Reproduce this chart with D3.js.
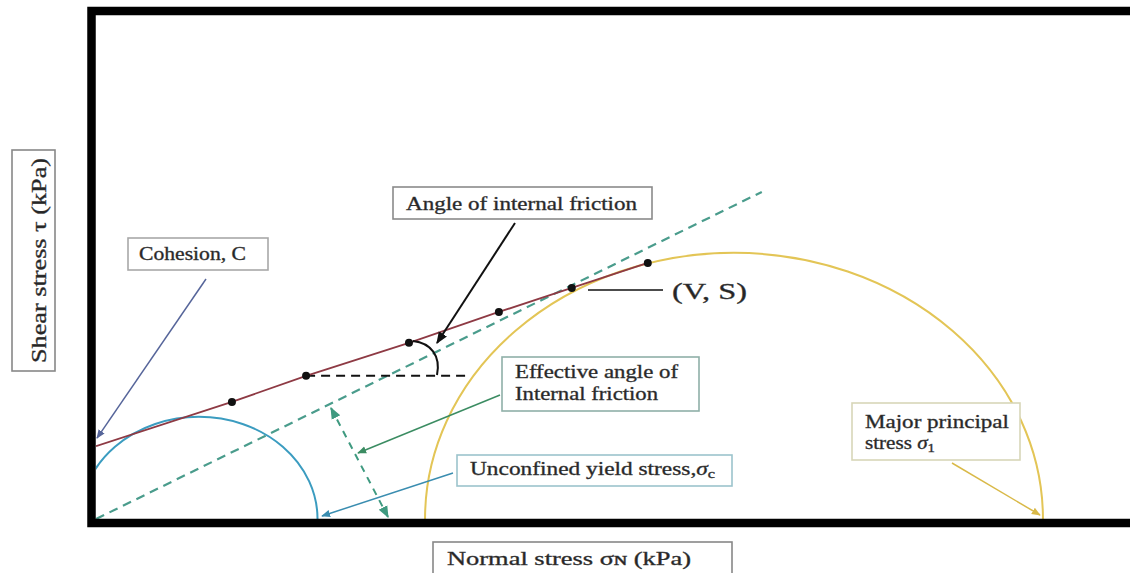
<html>
<script src='https://d3js.org/d3.v7.min.js'></script>
<style>
body {margin:0; background:white;}
text {font-family: 'Liberation Serif', 'Times New Roman', serif; fill:#262626; stroke:#3a3a3a; stroke-width:0.35;}
</style>
<body>
<svg width=1130 height=573></svg>
<script>
// yield locus (sigma, tau in kPa)
var cohesion = 27.4;
var yieldSigma = [44.0, 68.0, 101.3, 130.4, 154.0, 178.6];
var yieldTau = [44.0, 53.8, 66.2, 77.8, 86.8, 96.2];
// effective yield locus through the origin
var effSigma = [0, 215.5];
var effTau = [0, 122.9];
// Mohr circles: centre and radius
var circleNames = ['unconfined', 'major'];
var circleCentre = [33.3, 206.5];
var circleRadius = [38.4, 100];

var svg = d3.select('svg');
var x = d3.scaleLinear().domain([0, 335]).range([96, 1131]);
var y = d3.scaleLinear().domain([0, 195]).range([519, 0]);

svg.append('defs').append('clipPath').attr('id', 'plot')
  .append('rect').attr('x', 96).attr('y', 15).attr('width', 1040).attr('height', 504);

function marker(id, col) {
  svg.select('defs').append('marker').attr('id', id)
    .attr('viewBox', '0 0 10 10').attr('refX', 9).attr('refY', 5)
    .attr('markerWidth', 6).attr('markerHeight', 6).attr('orient', 'auto-start-reverse')
    .append('path').attr('d', 'M0,1 L10,5 L0,9 z').attr('fill', col);
}
marker('aBlack', '#111');
marker('aSlate', '#56659a');
marker('aGreen', '#3b8c62');
marker('aBlue', '#3a8db0');
marker('aGold', '#d9b948');
marker('aDash', '#3f9a80');

var g = svg.append('g').attr('clip-path', 'url(#plot)');

// Mohr circles (the picture is stretched sideways, so they come out as ellipses)
var circleCol = ['#3b9cc0', '#e3c556'];
g.selectAll('ellipse').data(circleNames).enter().append('ellipse')
  .attr('cx', (d, i) => x(circleCentre[i]))
  .attr('cy', y(0))
  .attr('rx', (d, i) => x(circleCentre[i] + circleRadius[i]) - x(circleCentre[i]))
  .attr('ry', (d, i) => y(0) - y(circleRadius[i]))
  .attr('fill', 'none').attr('stroke', (d, i) => circleCol[i]).attr('stroke-width', 2);

// effective yield locus
g.append('line')
  .attr('x1', x(effSigma[0])).attr('y1', y(effTau[0]))
  .attr('x2', x(effSigma[1])).attr('y2', y(effTau[1]))
  .attr('stroke', '#4a9c8c').attr('stroke-width', 2.2).attr('stroke-dasharray', '9,6');

// horizontal reference from the second point
g.append('line')
  .attr('x1', x(yieldSigma[1])).attr('y1', y(yieldTau[1]))
  .attr('x2', x(119.5)).attr('y2', y(yieldTau[1]))
  .attr('stroke', '#111').attr('stroke-width', 2).attr('stroke-dasharray', '9,6');

// yield locus
var locus = [[0, cohesion]].concat(yieldSigma.map((s, i) => [s, yieldTau[i]]));
g.append('path').datum(locus)
  .attr('d', d3.line().x(d => x(d[0])).y(d => y(d[1])))
  .attr('fill', 'none').attr('stroke', '#8e3a44').attr('stroke-width', 1.8);

g.selectAll('circle.pt').data(yieldSigma).enter().append('circle')
  .attr('class', 'pt')
  .attr('cx', d => x(d)).attr('cy', (d, i) => y(yieldTau[i])).attr('r', 4)
  .attr('fill', '#111');

// angle arc
svg.append('path').attr('d', 'M413,341 C431,343 441,356 437,375')
  .attr('fill', 'none').attr('stroke', '#111').attr('stroke-width', 2);

// arrows
var arrows = [
  {x1: 206, y1: 279, x2: x(0) + 1, y2: y(cohesion) - 8, col: '#56659a', m: 'aSlate', w: 1.5},
  {x1: 515, y1: 223, x2: 437, y2: 343, col: '#111', m: 'aBlack', w: 2},
  {x1: 500, y1: 395, x2: 358, y2: 453, col: '#3b8c62', m: 'aGreen', w: 1.5},
  {x1: 453, y1: 473, x2: 322, y2: 516, col: '#3a8db0', m: 'aBlue', w: 1.5},
  {x1: 952, y1: 463, x2: 1040, y2: 515, col: '#d9b948', m: 'aGold', w: 1.5}
];
svg.selectAll('line.arrow').data(arrows).enter().append('line')
  .attr('class', 'arrow')
  .attr('x1', d => d.x1).attr('y1', d => d.y1).attr('x2', d => d.x2).attr('y2', d => d.y2)
  .attr('stroke', d => d.col).attr('stroke-width', d => d.w)
  .attr('marker-end', d => 'url(#' + d.m + ')');

svg.append('line').attr('x1', 331).attr('y1', 408).attr('x2', 388).attr('y2', 517)
  .attr('stroke', '#3f9a80').attr('stroke-width', 2).attr('stroke-dasharray', '7,6')
  .attr('marker-start', 'url(#aDash)').attr('marker-end', 'url(#aDash)');

svg.append('line').attr('x1', 588).attr('y1', 290).attr('x2', 663).attr('y2', 290)
  .attr('stroke', '#111').attr('stroke-width', 1.5);

// label boxes
var boxes = [
  {x: 393, y: 187, w: 259, h: 32, col: '#8a8a8a'},
  {x: 128, y: 238, w: 140, h: 32, col: '#a8a8a8'},
  {x: 502, y: 357, w: 197, h: 54, col: '#8fb0a8'},
  {x: 457, y: 455, w: 275, h: 31, col: '#9cc4cc'},
  {x: 852, y: 403, w: 168, h: 57, col: '#d8d6b8'},
  {x: 12, y: 150, w: 43, h: 221, col: '#888'},
  {x: 433, y: 542, w: 299, h: 40, col: '#888'}
];
svg.selectAll('rect.box').data(boxes).enter().append('rect')
  .attr('class', 'box')
  .attr('x', d => d.x).attr('y', d => d.y).attr('width', d => d.w).attr('height', d => d.h)
  .attr('fill', 'white').attr('stroke', d => d.col).attr('stroke-width', 1.6);

function label(px, py, len, size, parts) {
  var t = svg.append('text').attr('x', px).attr('y', py)
    .attr('font-size', size).attr('textLength', len).attr('lengthAdjust', 'spacingAndGlyphs');
  parts.forEach(p => {
    var s = t.append('tspan').text(p.t);
    if (p.i) s.attr('font-style', 'italic');
    if (p.sub) s.attr('baseline-shift', '-25%').attr('font-size', size * 0.7);
  });
  return t;
}
label(406, 210, 231, 18, [{t: 'Angle of internal friction'}]);
label(139, 260, 107, 18, [{t: 'Cohesion, C'}]);
label(515, 378, 163, 18, [{t: 'Effective angle of'}]);
label(515, 400, 143, 18, [{t: 'Internal friction'}]);
label(470, 475, 245, 18, [{t: 'Unconfined yield stress,'}, {t: 'σ', i: 1}, {t: 'c', sub: 1}]);
label(865, 428, 144, 18, [{t: 'Major principal'}]);
label(865, 449, 70, 18, [{t: 'stress '}, {t: 'σ', i: 1}, {t: '1', sub: 1}]);
label(672, 299, 75, 24, [{t: '(V, S)'}]);
label(447, 565, 244, 19, [{t: 'Normal stress σɴ (kPa)'}]);
label(0, 0, 205, 21, [{t: 'Shear stress τ (kPa)'}])
  .attr('transform', 'translate(46,363) rotate(-90)');

// frame
svg.append('rect').attr('x', 91.5).attr('y', 11).attr('width', 1100).attr('height', 512)
  .attr('fill', 'none').attr('stroke', '#000').attr('stroke-width', 8.5);
</script>
</body>
</html>
